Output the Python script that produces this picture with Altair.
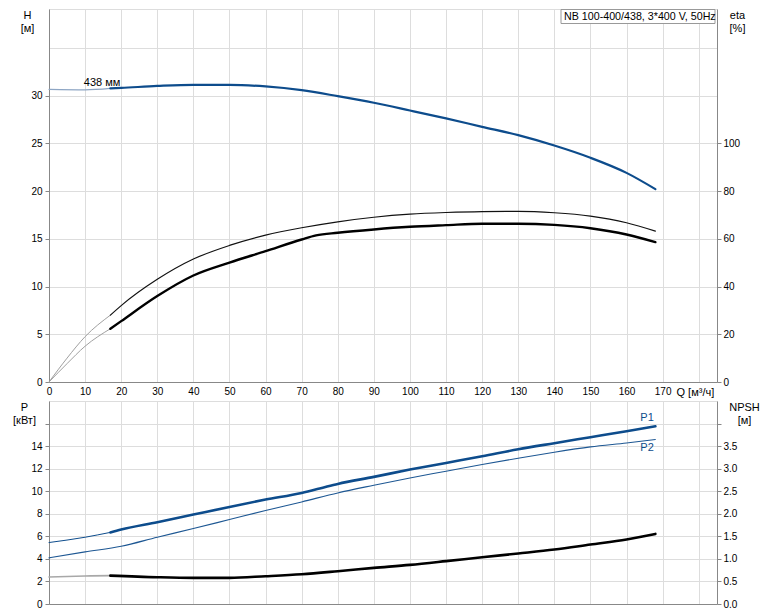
import altair as alt
import pandas as pd

# ---------------- data ----------------
THIN_END = 17  # flow where thin (extrapolated) part of curves ends

Q_H = [0, 10, 17, 20, 30, 40, 50, 60, 70, 80, 90, 100, 110, 120, 130, 140, 150, 160, 168]
H_VAL = [30.65, 30.6, 30.75, 30.8, 31.0, 31.12, 31.12, 30.95, 30.56, 29.93, 29.24, 28.43,
         27.6, 26.72, 25.85, 24.76, 23.48, 21.9, 20.2]

Q_ETA1 = [0, 5, 10, 17, 20, 30, 40, 50, 60, 70, 80, 90, 100, 110, 120, 130, 140, 150, 160, 168]
ETA1 = [0, 10, 19, 28, 32, 43, 51.5, 57.2, 61.5, 64.6, 67.1, 69.0, 70.3, 71.0, 71.4, 71.5,
        70.9, 69.5, 66.7, 63.2]

Q_ETA2 = [0, 5, 10, 17, 20, 30, 40, 50, 60, 70, 74, 80, 90, 100, 110, 120, 130, 140, 150, 160, 168]
ETA2 = [0, 7.7, 15, 22.3, 25.5, 36, 44.6, 50.0, 54.8, 59.7, 61.4, 62.5, 63.9, 65.0, 65.7,
        66.3, 66.3, 65.8, 64.4, 61.8, 58.6]

Q_P1 = [0, 10, 17, 20, 30, 40, 50, 60, 70, 75, 80, 90, 100, 110, 120, 130, 140, 150, 160, 168]
P1 = [5.45, 5.92, 6.35, 6.6, 7.25, 7.93, 8.61, 9.26, 9.85, 10.24, 10.65, 11.27, 11.92, 12.51,
      13.1, 13.72, 14.26, 14.79, 15.32, 15.76]

Q_P2 = [0, 10, 20, 30, 40, 50, 60, 70, 80, 90, 100, 110, 120, 130, 140, 150, 160, 168]
P2 = [4.09, 4.62, 5.12, 5.92, 6.69, 7.49, 8.29, 9.05, 9.85, 10.53, 11.18, 11.77, 12.37, 12.93,
      13.46, 13.93, 14.28, 14.58]

Q_NPSH = [0, 10, 17, 30, 40, 50, 60, 70, 80, 90, 100, 110, 120, 130, 140, 150, 160, 168]
NPSH = [0.60, 0.62, 0.63, 0.594, 0.58, 0.58, 0.616, 0.66, 0.727, 0.80, 0.867, 0.95, 1.037,
        1.12, 1.207, 1.318, 1.43, 1.553]

X_TICKS = list(range(0, 190, 10))
H_TICKS = list(range(0, 40, 5))
ETA_TICKS = list(range(0, 120, 20))
P_TICKS = list(range(0, 18, 2))
NPSH_TICKS = [0, 0.5, 1.0, 1.5, 2.0, 2.5, 3.0, 3.5, 4.0]

TITLE_TEXT = "NB 100-400/438, 3*400 V, 50Hz"
LABEL_H = ["438 мм"]
LABEL_H_Q = [14.7]
LABEL_H_V = [31.3]
LABEL_P = ["P1", "P2"]
LABEL_P_Q = [165.7, 165.7]
LABEL_P_V = [16.45, 13.8]

# ---------------- styles ----------------
BLUE = "#0d4c8c"
FONT = "Liberation Sans"
GRID = "#d2d2d2"
AXC = "#8a8a8a"
X_MAX = 185.07
H_MAX = 39.06
P_MAX = 18
TW = 400  # normal title weight


def segs(q, v, name, thin_col, thick_col, thin_w, thick_w, split=True):
    rows = []
    for qi, vi in zip(q, v):
        if not split:
            rows.append(dict(Q=qi, v=vi, seg=name, col=thick_col, sw=thick_w))
            continue
        if qi <= THIN_END:
            rows.append(dict(Q=qi, v=vi, seg=name + "_a", col=thin_col, sw=thin_w))
        if qi >= THIN_END:
            rows.append(dict(Q=qi, v=vi, seg=name + "_b", col=thick_col, sw=thick_w))
    return rows


df_h = pd.DataFrame(segs(Q_H, H_VAL, "H", "#8ea6c4", BLUE, 1.2, 2.2))
df_eta = pd.DataFrame(segs(Q_ETA1, ETA1, "E1", "#a0a0a0", "#111111", 1.0, 1.2)
                      + segs(Q_ETA2, ETA2, "E2", "#a0a0a0", "#000000", 1.0, 2.4))
df_p = pd.DataFrame(segs(Q_P1, P1, "P1", BLUE, BLUE, 1.0, 2.6)
                    + segs(Q_P2, P2, "P2", BLUE, "#1d5793", 1.1, 1.1, split=False))
df_n = pd.DataFrame(segs(Q_NPSH, NPSH, "N", "#a8a8a8", "#000000", 1.6, 2.6))

df_lh = pd.DataFrame({"Q": LABEL_H_Q, "v": LABEL_H_V, "t": LABEL_H})
df_lp = pd.DataFrame({"Q": LABEL_P_Q, "v": LABEL_P_V, "t": LABEL_P})
df_title = pd.DataFrame({"t": [TITLE_TEXT]})

# ---------------- encodings ----------------
x_top = alt.X("Q:Q", scale=alt.Scale(domain=[0, X_MAX], nice=False, zero=False),
              axis=alt.Axis(values=X_TICKS, labelExpr="datum.value <= 170 ? datum.label : ''",
                            title="Q [м³/ч]", titleX=627, titleY=4, titleAlign="left",
                            titleBaseline="top", titleFontWeight=TW, ticks=False, tickSize=0,
                            labelPadding=4, grid=True, labelFlush=False))
x_bot = alt.X("Q:Q", scale=alt.Scale(domain=[0, X_MAX], nice=False, zero=False),
              axis=alt.Axis(values=X_TICKS, labels=False, ticks=False, tickSize=0,
                            title=None, grid=True))

y_h = alt.Y("v:Q", scale=alt.Scale(domain=[0, H_MAX], nice=False),
            axis=alt.Axis(values=H_TICKS, labelExpr="datum.value <= 30 ? datum.label : ''",
                          tickOpacity={"condition": {"test": "datum.value > 30", "value": 0},
                                       "value": 1},
                          title=["H", "[м]"], titleAngle=0, titleAlign="center",
                          titleBaseline="top", titleX=-22, titleY=0, titleFontWeight=TW,
                          grid=True, tickSize=4, labelPadding=3, labelFlush=False))
y_eta = alt.Y("v:Q", scale=alt.Scale(domain=[0, H_MAX * 4], nice=False),
              axis=alt.Axis(orient="right", values=ETA_TICKS, title=["eta", "[%]"],
                            titleAngle=0, titleAlign="center", titleBaseline="top",
                            titleX=20, titleY=0, titleFontWeight=TW, grid=False, tickSize=4,
                            labelPadding=2, labelFlush=False))
y_p = alt.Y("v:Q", scale=alt.Scale(domain=[0, P_MAX], nice=False),
            axis=alt.Axis(values=P_TICKS, labelExpr="datum.value <= 14 ? datum.label : ''",
                          title=["P", "[кВт]"], titleAngle=0, titleAlign="center",
                          titleBaseline="top", titleX=-25, titleY=0, titleFontWeight=TW,
                          grid=True, tickSize=4, labelPadding=3, labelFlush=False))
y_n = alt.Y("v:Q", scale=alt.Scale(domain=[0, P_MAX / 4], nice=False),
            axis=alt.Axis(orient="right", values=NPSH_TICKS, format=".1f",
                          labelExpr="datum.value <= 3.5 ? datum.label : ''",
                          title=["NPSH", "[м]"], titleAngle=0, titleAlign="center",
                          titleBaseline="top", titleX=27, titleY=0, titleFontWeight=TW,
                          grid=False, tickSize=4, labelPadding=2, labelFlush=False))


def lines(df, x, y):
    return alt.Chart(df).mark_line(interpolate="monotone", strokeCap="round").encode(
        x=x, y=y, detail="seg:N", order="Q:Q",
        color=alt.Color("col:N", scale=None),
        strokeWidth=alt.StrokeWidth("sw:Q", scale=None))


W = 668
# ---------------- top panel ----------------
h_lines = lines(df_h, x_top, y_h)
h_label = alt.Chart(df_lh).mark_text(fontSize=11, font=FONT, color="#000",
                                     baseline="middle").encode(x=x_top, y=y_h, text="t:N")
box = alt.Chart(df_title).mark_rect(fill="white", stroke="#999", strokeWidth=1).encode(
    x=alt.value(512), x2=alt.value(666), y=alt.value(0.5), y2=alt.value(14.5))
box_text = alt.Chart(df_title).mark_text(fontSize=10.7, font=FONT, align="left",
                                         baseline="middle", color="#000").encode(
    x=alt.value(515), y=alt.value(8), text="t:N")
left_top = alt.layer(h_lines, h_label, box, box_text)
right_top = lines(df_eta, x_top, y_eta)
top = alt.layer(left_top, right_top).resolve_scale(y="independent").properties(
    width=W, height=373)

# ---------------- bottom panel ----------------
p_lines = lines(df_p, x_bot, y_p)
p_label = alt.Chart(df_lp).mark_text(fontSize=11, font=FONT, color=BLUE,
                                     baseline="middle").encode(x=x_bot, y=y_p, text="t:N")
left_bot = alt.layer(p_lines, p_label)
right_bot = lines(df_n, x_bot, y_n)
bottom = alt.layer(left_bot, right_bot).resolve_scale(y="independent").properties(
    width=W, height=203)

chart = alt.vconcat(top, bottom, spacing=2).properties(
    padding={"left": 4, "top": 0, "right": 5, "bottom": 0}
).configure_view(stroke=AXC, strokeWidth=1).configure_axis(
    labelFont=FONT, labelFontSize=11, labelColor="#000", titleFont=FONT, titleFontSize=11,
    titleFontWeight=TW, titleColor="#000", gridColor=GRID, gridWidth=1,
    domainColor=AXC, domainWidth=2, tickColor="#222", titleLineHeight=12
).configure(background="white")

chart.save("out.html", embed_options={"renderer": "svg", "actions": False})
